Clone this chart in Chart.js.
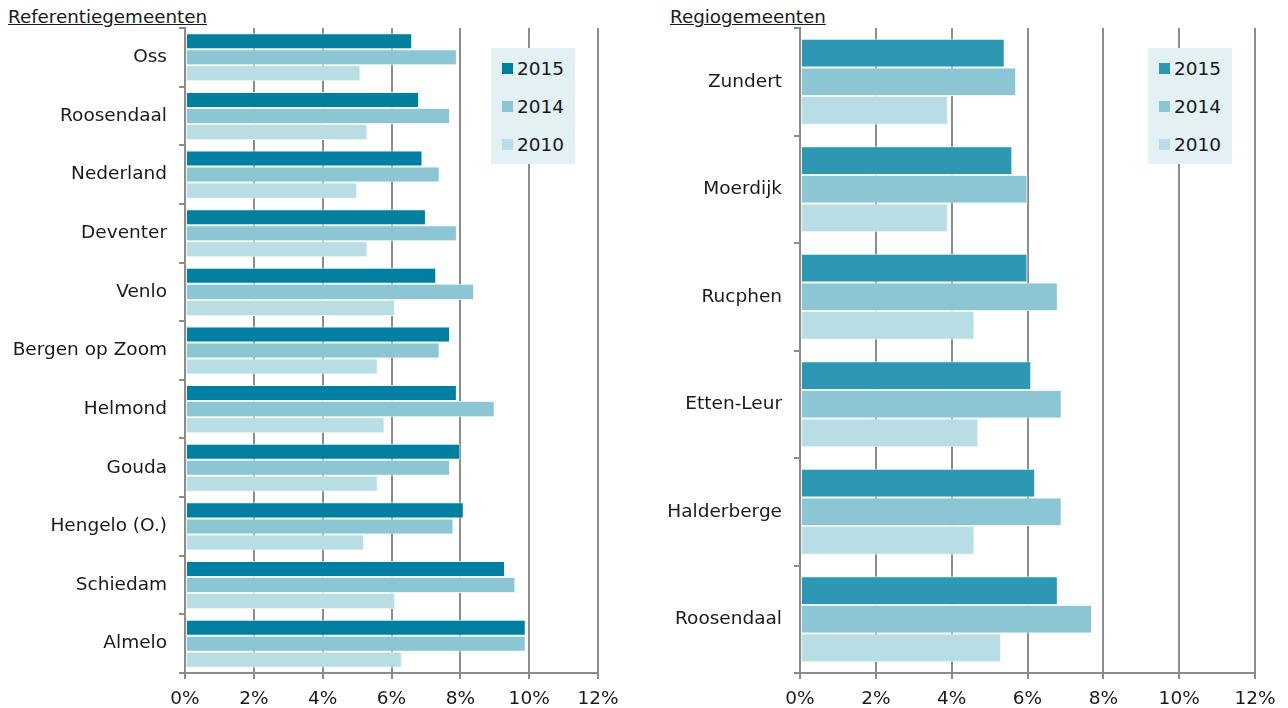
<!DOCTYPE html>
<html>
<head>
<meta charset="utf-8">
<script src="https://cdn.jsdelivr.net/npm/chart.js@4.4.1/dist/chart.umd.min.js"></script>
<style>
  html, body { margin: 0; padding: 0; background: #fff; }
  body { width: 1288px; height: 708px; position: relative; overflow: hidden;
         font-family: "DejaVu Sans", Verdana, sans-serif; color: #1a1a1a; }
  .panel { position: absolute; top: 0; }
  .panel canvas { position: absolute; left: 0; top: 0; }
  .title { position: absolute; font-size: 18.3px; text-decoration: underline;
           line-height: 22px; white-space: nowrap; }
  .legend { position: absolute; background: #e3f0f4; box-sizing: border-box;
            padding: 1px 0 0 11px; }
  .legend .item { height: 38px; display: flex; align-items: center; font-size: 18.5px; }
  .legend .swatch { width: 11px; height: 11px; margin-right: 4px; flex: none; }
</style>
</head>
<body>
<div class="title" style="left:8px; top:6px;">Referentiegemeenten</div>
<div class="title" style="left:670px; top:6px;">Regiogemeenten</div>

<div class="panel" style="left:0; width:640px; height:708px;">
  <canvas id="refChart" width="640" height="708"></canvas>
  <div class="legend" id="refLegend" style="left:491px; top:48px; width:84px; height:116px;"></div>
</div>
<div class="panel" style="left:640px; width:648px; height:708px;">
  <canvas id="regioChart" width="648" height="708"></canvas>
  <div class="legend" id="regioLegend" style="left:508px; top:48px; width:84px; height:116px;"></div>
</div>

<script>
// Werkloosheid (% van de beroepsbevolking) per gemeente
const seriesLabels = ['2015', '2014', '2010'];

const refCategories = ['Oss', 'Roosendaal', 'Nederland', 'Deventer', 'Venlo', 'Bergen op Zoom',
                       'Helmond', 'Gouda', 'Hengelo (O.)', 'Schiedam', 'Almelo'];
const ref2015 = [6.6, 6.8, 6.9, 7.0, 7.3, 7.7, 7.9, 8.0, 8.1, 9.3, 9.9];
const ref2014 = [7.9, 7.7, 7.4, 7.9, 8.4, 7.4, 9.0, 7.7, 7.8, 9.6, 9.9];
const ref2010 = [5.1, 5.3, 5.0, 5.3, 6.1, 5.6, 5.8, 5.6, 5.2, 6.1, 6.3];

const regioCategories = ['Zundert', 'Moerdijk', 'Rucphen', 'Etten-Leur', 'Halderberge', 'Roosendaal'];
const regio2015 = [5.4, 5.6, 6.0, 6.1, 6.2, 6.8];
const regio2014 = [5.7, 6.0, 6.8, 6.9, 6.9, 7.7];
const regio2010 = [3.9, 3.9, 4.6, 4.7, 4.6, 5.3];

const xTickValues = [0, 2, 4, 6, 8, 10, 12];

const FONT = '"DejaVu Sans", Verdana, sans-serif';
const GRID = '#8c8c8c';
const TEXT = '#1a1a1a';

function makeChart(canvasId, legendId, categories, series, colors, opts) {
  const datasets = series.map((values, i) => ({
    label: seriesLabels[i],
    data: values,
    backgroundColor: colors[i],
    borderColor: 'rgba(235,246,249,0.9)',
    borderWidth: 1,
    borderSkipped: false,
    categoryPercentage: opts.categoryPercentage,
    barPercentage: 1.0
  }));

  const chart = new Chart(document.getElementById(canvasId), {
    type: 'bar',
    data: { labels: categories, datasets },
    options: {
      indexAxis: 'y',
      responsive: false,
      animation: false,
      devicePixelRatio: 1,
      layout: { padding: { top: 28, right: opts.padRight, bottom: 0, left: 0 } },
      plugins: { legend: { display: false }, tooltip: { enabled: false } },
      scales: {
        x: {
          min: 0, max: 12,
          afterBuildTicks: (scale) => { scale.ticks = xTickValues.map(v => ({ value: v })); },
          afterFit: (scale) => { scale.height = 35; },
          grid: { color: GRID, lineWidth: 2, tickLength: 6, drawTicks: true },
          border: { display: true, color: GRID, width: 2 },
          ticks: {
            padding: 9,
            color: TEXT,
            font: { family: FONT, size: 18.5 },
            callback: (v) => v + '%'
          }
        },
        y: {
          afterFit: (scale) => { scale.width = opts.axisWidth; },
          grid: { display: true, drawOnChartArea: false, drawTicks: true, tickLength: 6,
                  color: GRID, lineWidth: 2, offset: true },
          border: { display: true, color: GRID, width: 2 },
          ticks: { padding: 12, color: TEXT, font: { family: FONT, size: 18.5 } }
        }
      }
    }
  });

  // legend box built from the datasets
  const legend = document.getElementById(legendId);
  chart.data.datasets.forEach(ds => {
    const item = document.createElement('div');
    item.className = 'item';
    const sw = document.createElement('span');
    sw.className = 'swatch';
    sw.style.background = ds.backgroundColor;
    const label = document.createElement('span');
    label.textContent = ds.label;
    item.appendChild(sw);
    item.appendChild(label);
    legend.appendChild(item);
  });
  return chart;
}

makeChart('refChart', 'refLegend', refCategories, [ref2015, ref2014, ref2010],
  ['#007fa0', '#8cc5d3', '#b8dde5'],
  { axisWidth: 185, padRight: 42, categoryPercentage: 0.82 });

makeChart('regioChart', 'regioLegend', regioCategories, [regio2015, regio2014, regio2010],
  ['#2e97b3', '#8cc5d3', '#b8dde5'],
  { axisWidth: 160, padRight: 33, categoryPercentage: 0.80 });
</script>
</body>
</html>
